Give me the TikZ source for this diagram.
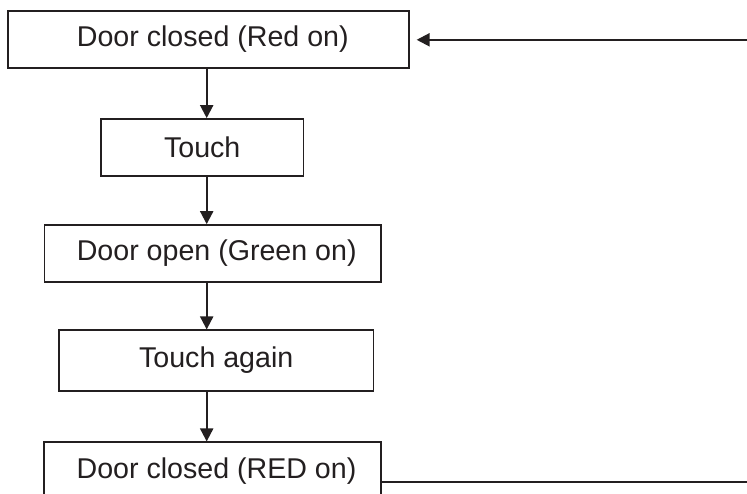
\documentclass[tikz,border=0pt]{standalone}
\usepackage{fontspec}
\setmainfont{Liberation Sans}
\usetikzlibrary{arrows.meta}
\definecolor{ink}{RGB}{35,31,32}
\begin{document}
\begin{tikzpicture}[x=1pt,y=-1pt,
  box/.style={draw=ink,line width=1.7pt,rectangle,inner sep=0pt,font=\fontsize{28.6}{30}\selectfont,text=ink},
  flow/.style={draw=ink,line width=2.1pt,-{Triangle[length=13pt,width=13pt]}}]
\useasboundingbox (0,0) rectangle (747,493);
\clip (0,0) rectangle (747,493);
\fill[white] (0,0) rectangle (747,493);
\node[box,minimum width=401pt,minimum height=56.7pt] (b1) at (208.8,39.4) {\hspace{8pt}Door closed (Red on)};
\node[box,minimum width=202.3pt,minimum height=56.7pt] (b2) at (202.2,147.3) {Touch};
\node[box,minimum width=336.7pt,minimum height=57pt] (b3) at (212.7,253.5) {\hspace{8pt}Door open (Green on)};
\node[box,minimum width=314.3pt,minimum height=60.4pt] (b4) at (216.2,360.5) {Touch again};
\node[box,minimum width=337pt,minimum height=56.6pt] (b5) at (212.5,470.6) {\hspace{8pt}Door closed (RED on)};
\coordinate (ax) at (206.7,0);
\coordinate (rt) at (770,0);
\draw[flow] (b1.south -| ax) -- (b2.north -| ax);
\draw[flow] (b2.south -| ax) -- (b3.north -| ax);
\draw[flow] (b3.south -| ax) -- (b4.north -| ax);
\draw[flow] (b4.south -| ax) -- (b5.north -| ax);
\coordinate (lo) at (b5.east |- 0,482);
\coordinate (hi) at (b1.east |- 0,39.8);
\draw[flow,shorten >=6.5pt] (lo) -- (rt |- lo) -- (rt |- hi) -- (hi);
\end{tikzpicture}
\end{document}
